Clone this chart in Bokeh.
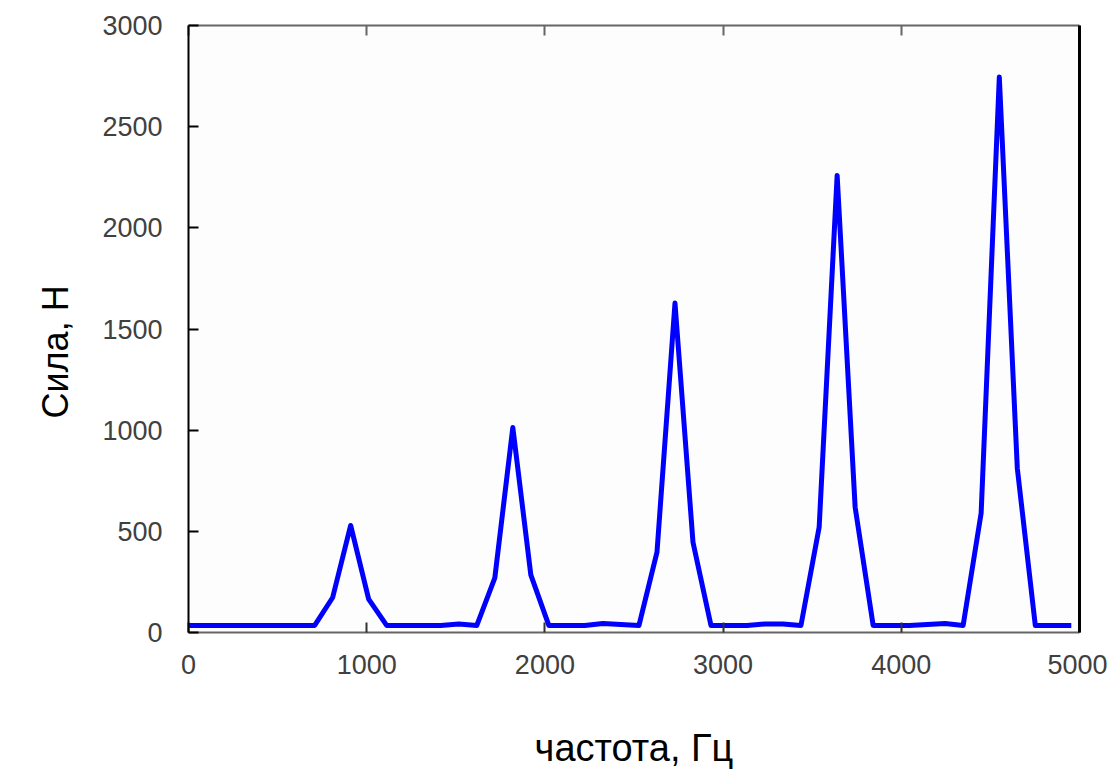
from bokeh.plotting import figure
from bokeh.models import LinearAxis, FixedTicker, Range1d, Title
from bokeh.embed import file_html
from bokeh.resources import INLINE

freq = [0, 101, 202, 303, 404, 506, 607, 708, 809, 910,
        1011, 1112, 1213, 1314, 1415, 1517, 1618, 1719, 1820, 1921,
        2022, 2123, 2224, 2325, 2426, 2528, 2629, 2730, 2831, 2932,
        3033, 3134, 3235, 3336, 3437, 3539, 3640, 3741, 3842, 3943,
        4044, 4145, 4246, 4347, 4448, 4550, 4651, 4752, 4853, 4954]
force = [35, 35, 35, 35, 35, 35, 35, 35, 173, 529,
         165, 35, 35, 35, 35, 42, 35, 270, 1013, 285,
         35, 35, 35, 45, 40, 35, 397, 1628, 446, 35,
         35, 35, 42, 42, 35, 520, 2259, 619, 35, 35,
         35, 40, 45, 35, 590, 2745, 812, 35, 35, 35]

x_ticks = [0, 1000, 2000, 3000, 4000, 5000]
y_ticks = [0, 500, 1000, 1500, 2000, 2500, 3000]
x_label = "частота, Гц"
y_label = "Сила, Н"

FONT = "Liberation Sans"

p = figure(frame_width=891, frame_height=607,
           min_border_left=188, min_border_top=25,
           min_border_right=28, min_border_bottom=138,
           x_range=Range1d(0, 5000), y_range=Range1d(0, 3000),
           output_backend="svg", toolbar_location=None,
           x_axis_label=x_label)

p.background_fill_color = "#fdfdfd"
p.border_fill_color = "white"
p.outline_line_color = None
p.grid.visible = False

p.line(freq, force, line_color="#0000ff", line_width=5, line_join="round")

xa = p.xaxis[0]
xa.ticker = FixedTicker(ticks=x_ticks)
xa.major_tick_in = 10
xa.major_tick_out = 0
xa.minor_tick_in = 0
xa.minor_tick_out = 0
xa.axis_line_color = "#666666"
xa.axis_line_width = 2
xa.major_tick_line_color = "#333333"
xa.major_tick_line_width = 2
xa.major_label_text_font = FONT
xa.major_label_text_font_size = "27px"
xa.major_label_text_color = "#404040"
xa.major_label_standoff = 22
xa.axis_label_text_font = FONT
xa.axis_label_text_font_size = "38px"
xa.axis_label_text_font_style = "normal"
xa.axis_label_text_color = "black"
xa.axis_label_standoff = 50

ya = p.yaxis[0]
ya.ticker = FixedTicker(ticks=y_ticks)
ya.major_tick_in = 10
ya.major_tick_out = 0
ya.minor_tick_in = 0
ya.minor_tick_out = 0
ya.axis_line_color = "black"
ya.axis_line_width = 2
ya.major_tick_line_color = "black"
ya.major_tick_line_width = 2
ya.major_label_text_font = FONT
ya.major_label_text_font_size = "27px"
ya.major_label_text_color = "#404040"
ya.major_label_standoff = 26

# y-axis title as a left-side Title, placed like the reference
ytitle = Title(text=y_label, align="left", offset=214,
               text_font=FONT, text_font_size="36px", text_color="black",
               text_font_style="normal")
try:
    ytitle.standoff = 48
except Exception:
    pass
p.add_layout(ytitle, "left")

top = LinearAxis(ticker=FixedTicker(ticks=x_ticks),
                 major_label_overrides={t: "" for t in x_ticks},
                 major_tick_in=10, major_tick_out=0,
                 minor_tick_in=0, minor_tick_out=0,
                 axis_line_color="#666666", axis_line_width=2,
                 major_tick_line_color="#666666", major_tick_line_width=2,
                 major_label_standoff=0)
p.add_layout(top, "above")

right = LinearAxis(ticker=FixedTicker(ticks=[]),
                   major_tick_in=0, major_tick_out=0,
                   minor_tick_in=0, minor_tick_out=0,
                   axis_line_color="black", axis_line_width=3,
                   major_label_standoff=0)
p.add_layout(right, "right")

open("out.html", "w").write(file_html(p, INLINE))
